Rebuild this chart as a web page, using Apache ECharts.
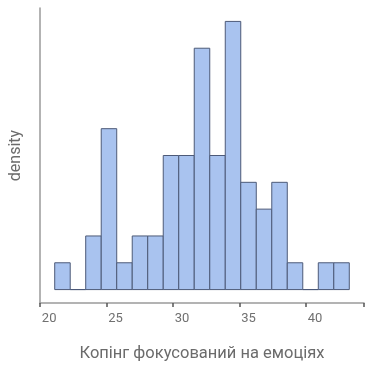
<!DOCTYPE html>
<html>
<head>
<meta charset="utf-8">
<script src="https://cdn.jsdelivr.net/npm/echarts@6/dist/echarts.min.js"></script>
<style>
  html, body { margin: 0; padding: 0; background: #fff; }
  #chart { width: 365px; height: 369px; }
</style>
</head>
<body>
<div id="chart"></div>
<script>
// Histogram of coping scores: 19 bins, first bin centred on 21, width 7/6
const binCenters = [21, 22.1667, 23.3333, 24.5, 25.6667, 26.8333, 28, 29.1667, 30.3333, 31.5,
                    32.6667, 33.8333, 35, 36.1667, 37.3333, 38.5, 39.6667, 40.8333, 42];
const binWidth = 7 / 6;
const counts = [1, 0, 2, 6, 1, 2, 2, 5, 5, 9, 5, 10, 4, 3, 4, 1, 0, 1, 1];
const xTicks = [20, 25, 30, 35, 40];

const rects = binCenters.map((c, i) => [c - binWidth / 2, c + binWidth / 2, counts[i]]);

const chart = echarts.init(document.getElementById('chart'));
chart.setOption({
  animation: false,
  grid: { left: 39, right: 1, top: 8, bottom: 66 },
  xAxis: {
    type: 'value',
    min: 19.31,
    max: 43.69,
    interval: 5,
    name: 'Копінг фокусований на емоціях',
    nameLocation: 'middle',
    nameGap: 42,
    nameTextStyle: { color: '#6b6b6b', fontSize: 16.5, fontFamily: 'Roboto' },
    axisLine: { onZero: false, lineStyle: { color: '#9a9a9a', width: 1.5 } },
    axisTick: { show: true, length: 4, lineStyle: { color: '#555', width: 1.5 } },
    axisLabel: {
      color: '#707070', fontSize: 13, fontFamily: 'Roboto', margin: 9,
      customValues: xTicks,
      formatter: v => (xTicks.includes(v) ? String(v) : '')
    },
    splitLine: { show: false }
  },
  yAxis: {
    type: 'value',
    min: -0.5,
    max: 10.5,
    name: 'density',
    nameLocation: 'middle',
    nameGap: 16,
    nameTextStyle: { color: '#6b6b6b', fontSize: 16, fontFamily: 'Roboto' },
    axisLine: { show: true, lineStyle: { color: '#9a9a9a', width: 1.5 } },
    axisTick: { show: false },
    axisLabel: { show: false },
    splitLine: { show: false }
  },
  series: [{
    type: 'custom',
    data: rects,
    renderItem: function (params, api) {
      const p0 = api.coord([api.value(0), 0]);
      const p1 = api.coord([api.value(1), api.value(2)]);
      return {
        type: 'rect',
        shape: { x: p0[0], y: p1[1], width: p1[0] - p0[0], height: p0[1] - p1[1] },
        style: { fill: '#a9c3ef', stroke: '#4d5a78', lineWidth: 1 }
      };
    },
    encode: { x: [0, 1], y: 2 }
  }]
});
</script>
</body>
</html>
